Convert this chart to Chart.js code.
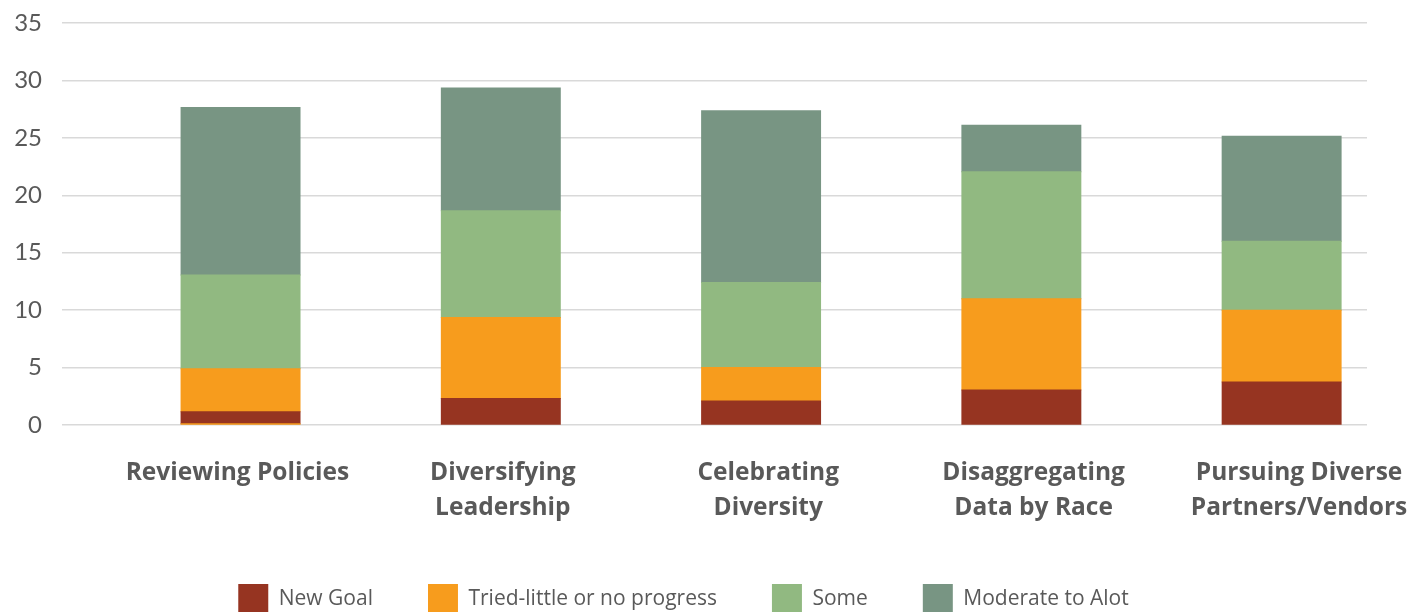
<!DOCTYPE html>
<html>
<head>
<meta charset="utf-8">
<title>Equity goals progress</title>
<script src="https://cdn.jsdelivr.net/npm/chart.js@4"></script>
<style>
  html, body { margin: 0; padding: 0; background: #fff; overflow: hidden; }
  #wrap { width: 1422px; height: 640px; }
</style>
</head>
<body>
<div id="wrap"><canvas id="chart"></canvas></div>
<script>
const categories = [
  ["Reviewing Policies"],
  ["Diversifying", "Leadership"],
  ["Celebrating", "Diversity"],
  ["Disaggregating", "Data by Race"],
  ["Pursuing Diverse", "Partners/Vendors"],
];

// stacked bottom to top
const newGoal     = [1.05, 2.3, 2.1, 3.05, 3.75];
const triedLittle = [3.75, 7.05, 2.9, 7.95, 6.25];
const some        = [8.15, 9.3, 7.4, 11.05, 6.0];
const moderate    = [14.6, 10.7, 14.95, 4.05, 9.15];
// thin leftover strip under the first bar only
const triedLittleBase = [0.1, null, null, null, null];

const yTicks = [0, 5, 10, 15, 20, 25, 30, 35];

const GREY = "#595959";

const points = (arr) => arr.map((v, i) => ({ x: i, y: v }));
const indexTicks = (axis) => {
  axis.ticks = categories.map((_, i) => ({ value: i }));
};

const datasets = [
  { label: "Tried-little or no progress", data: points(triedLittleBase), backgroundColor: "#F79C1D", hideLegend: true },
  { label: "New Goal", data: points(newGoal), backgroundColor: "#963421" },
  { label: "Tried-little or no progress", data: points(triedLittle), backgroundColor: "#F79C1D" },
  { label: "Some", data: points(some), backgroundColor: "#91B981" },
  { label: "Moderate to Alot", data: points(moderate), backgroundColor: "#789583" },
];

new Chart(document.getElementById("chart"), {
  type: "bar",
  data: { datasets },
  options: {
    responsive: true,
    maintainAspectRatio: false,
    animation: false,
    barPercentage: 0.457,
    categoryPercentage: 1,
    // slight overlap so stacked segments don't leave light seams
    inflateAmount: 0.5,
    layout: { padding: { top: 23, right: 55, bottom: 16, left: 0 } },
    plugins: {
      tooltip: { enabled: false },
      legend: {
        position: "bottom",
        labels: {
          boxWidth: 30,
          boxHeight: 30,
          padding: 55,
          color: GREY,
          font: { family: "Open Sans", size: 21 },
          filter: (item, data) => !data.datasets[item.datasetIndex].hideLegend,
        },
      },
    },
    scales: {
      x: {
        type: "linear",
        stacked: true,
        display: false,
        offset: false,
        min: -0.686,
        max: 4.328,
        afterBuildTicks: indexTicks,
      },
      xl: {
        type: "linear",
        position: "bottom",
        offset: false,
        min: -0.661,
        max: 4.256,
        grid: { display: false },
        border: { display: false },
        afterBuildTicks: indexTicks,
        afterFit: (axis) => {
          axis.height = 104;
          axis.paddingLeft = 0;
          axis.paddingRight = 0;
        },
        ticks: {
          autoSkip: false,
          maxRotation: 0,
          minRotation: 0,
          padding: 22,
          color: GREY,
          font: { family: "Open Sans", size: 24.5, weight: "bold", lineHeight: 1.43 },
          callback: (value) => categories[value],
        },
      },
      y: {
        stacked: true,
        min: 0,
        max: 35,
        afterBuildTicks: (axis) => {
          axis.ticks = yTicks.map((v) => ({ value: v }));
        },
        afterFit: (axis) => {
          axis.width = 62;
          axis.paddingTop = 0;
          axis.paddingBottom = 0;
        },
        grid: { color: "#D9D9D9", lineWidth: 1.5, drawTicks: false },
        border: { display: false },
        ticks: {
          padding: 20,
          color: GREY,
          font: { family: "Lato", size: 24 },
        },
      },
    },
  },
});
</script>
</body>
</html>
